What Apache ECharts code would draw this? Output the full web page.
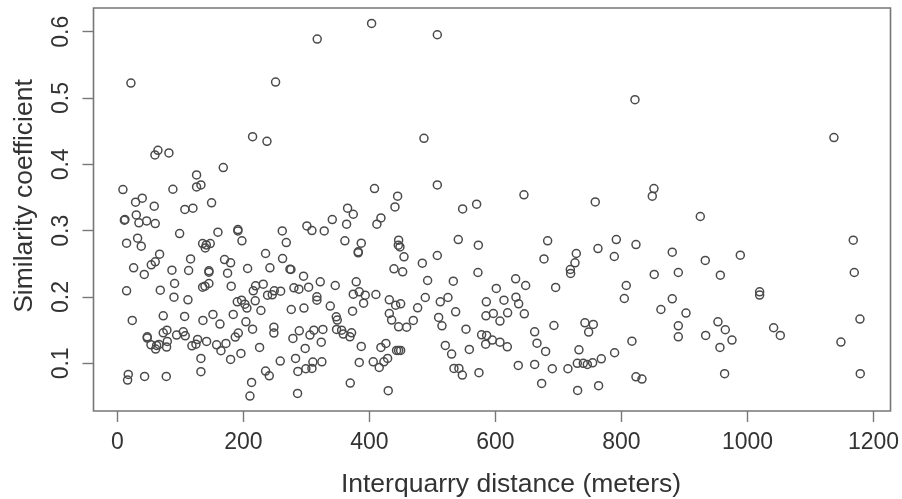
<!DOCTYPE html>
<html><head><meta charset="utf-8">
<style>html,body{margin:0;padding:0;background:#fff}#c{width:902px;height:499px;filter:blur(0.35px)}</style>
<script src="https://cdn.jsdelivr.net/npm/echarts@6/dist/echarts.min.js"></script>
</head><body><div id="c"></div>
<script>
const xTicks=[0,200,400,600,800,1000,1200];
const yTicks=[0.1,0.2,0.3,0.4,0.5,0.6];
const xTitle='Interquarry distance (meters)';
const yTitle='Similarity coefficient';
// [distance, similarity]
const upperPoints=[[21.4,.5226],[317.1,.5889],[403.4,.6125],[251,.5241],[214.5,.4418],[237.3,.4347],[64.3,.4212],[59.5,.4142],[81.7,.4172],[168,.3951],[125.6,.384],[132.5,.369],[125.6,.366],[8.7,.362],[88,.3625],[39.4,.349],[28.8,.343],[58.4,.337],[107,.332],[119.8,.334],[149.4,.342],[408,.3635],[365.3,.334],[374.3,.3248],[507.7,.5954],[821.4,.4975],[486.5,.4393],[507.7,.369],[444.7,.352],[440.5,.3359],[547.9,.3328],[570.1,.3399],[645.2,.354],[758.4,.3434],[851.5,.3635],[848.9,.352],[1137.2,.4404],[925.1,.3214]];
const leftPoints=[[11.9,.3168],[11,.3158],[29.9,.3238],[34.1,.3118],[46.3,.3148],[60,.3108],[98.7,.2957],[159.5,.2977],[191.2,.3017],[191.2,.2997],[197.6,.2847],[261.6,.2997],[268,.2821],[300.7,.3072],[308.7,.3002],[328.2,.2997],[341,.3168],[363.7,.3098],[361,.2847],[387,.2811],[382.2,.2681],[382.2,.2666],[411.8,.3098],[418.2,.3193],[32,.2887],[14.5,.2811],[37.8,.2766],[66.9,.2646],[60,.253],[53.7,.2485],[25.7,.244],[42.6,.234],[86.5,.2405],[116.1,.2575],[113,.24],[135.2,.2806],[147.3,.2806],[139.4,.2741],[141,.2786],[170,.2565],[179.6,.2515],[174.8,.236],[145.2,.2395],[145.2,.2375],[145.2,.2204],[138.9,.2164],[135.2,.2149],[90.7,.2204],[68,.2104],[14.5,.2094],[89.7,.1998],[111.9,.1958],[180.6,.2164],[206.6,.243],[235.1,.2656],[262.1,.258],[242,.244],[273.8,.242],[275.4,.2415],[295.4,.2314],[321.9,.2229],[345.7,.2174],[379,.2229],[303.4,.2149],[280.1,.2139],[288,.2119],[219.3,.2169],[231.4,.2194],[215.6,.2094],[259,.2089],[248.9,.2094],[245.7,.2033],[238.3,.2028],[218.7,.1943],[190.2,.1928],[197,.1953],[202.3,.1893],[205.5,.1833],[227.7,.1797],[183.8,.1737],[151.6,.1737],[135.7,.1647],[106.6,.1707],[72.7,.1717],[23.5,.1647],[162.7,.1592],[203.9,.1627],[214.5,.1516],[248.3,.1546],[248.3,.1456],[275.9,.1812],[296,.1833],[316.6,.2003],[316.6,.1953],[337.8,.1863],[373.2,.1787],[374.3,.2043],[383.8,.2078],[393.3,.2028],[410.2,.2038],[390.7,.1908],[347.3,.1702],[348.9,.1652],[347.8,.1511],[355.8,.1501],[358.4,.1441],[371.6,.1461],[369,.1401],[387,.1255],[418.2,.124],[426.1,.13],[288.6,.1491],[278.5,.1376],[305.5,.1426],[311.8,.1501],[326.1,.1511],[323.5,.132],[298,.1225],[225.6,.124],[282.7,.1075],[258.4,.1034],[310.2,.1019],[324.5,.1024],[308.7,.0924],[299.1,.0919],[286.4,.0879],[383.8,.1014],[406,.1024],[415.5,.0939],[422.9,.1024],[428.8,.1075],[369.5,.0703],[429.8,.0588],[285.9,.0547],[210.3,.0507],[212.9,.0713],[235.1,.0884],[241,.0813],[132.5,.0874],[132.5,.1075],[179.6,.1059],[196,.115],[164.3,.119],[157.4,.128],[172.2,.13],[141.5,.133],[127.2,.1361],[124.6,.129],[118.2,.1265],[187,.1396],[191.8,.1456],[93.9,.1426],[104.5,.1476],[107.6,.1416],[78.5,.1501],[72.7,.1461],[79.1,.133],[78,.1245],[47.3,.1401],[47.3,.1381],[53.2,.128],[60.6,.1215],[65.9,.1285],[62.2,.127],[17.2,.0834],[16.1,.0748],[43.1,.0803],[77.5,.0803]];
const middlePoints=[[446.3,.2857],[448.4,.2756],[445.8,.2781],[454.8,.2606],[541,.2867],[572.8,.2781],[507.7,.2626],[483.9,.251],[438.9,.2425],[452.7,.238],[572.2,.237],[492.3,.2249],[533.1,.2239],[632,.2274],[647.9,.2174],[601.3,.2129],[695.5,.2144],[682.8,.2847],[677,.2575],[728.3,.2656],[726.2,.2515],[718.8,.2415],[719.3,.2355],[762.7,.2731],[791.8,.2867],[788.6,.2611],[823,.2791],[880.6,.2676],[852,.234],[890.2,.237],[807.6,.2174],[804.5,.1978],[880.6,.1973],[862.6,.1812],[890.2,.1566],[890.2,.1401],[816.6,.1335],[789.1,.116],[768,.1069],[754.2,.1009],[745.8,.0984],[739.4,.1],[729.9,.1],[732.5,.1205],[715,.0919],[690.2,.0919],[662.2,.0984],[636.2,.0969],[679.6,.118],[665.9,.1305],[662.2,.1476],[692.8,.1571],[742,.1612],[755.3,.1587],[747.9,.1471],[673.3,.0698],[730.4,.0592],[763.7,.0663],[823,.0798],[832.5,.0763],[573.8,.0859],[547.4,.0823],[542,.0924],[534.1,.0924],[558.5,.121],[530.4,.114],[520.4,.127],[553.2,.1516],[515.1,.1566],[509.8,.1692],[536.8,.1777],[512.4,.1928],[524.6,.1993],[488.6,.1993],[476.5,.1837],[469.6,.1647],[459,.1546],[446.3,.1551],[435.2,.1652],[431.5,.1752],[431.5,.1958],[441.6,.1878],[449.5,.1898],[443,.1195],[449.5,.1195],[446.3,.1195],[585.5,.1928],[613.5,.1953],[632.5,.1998],[636.8,.1898],[645.8,.1747],[619.3,.1762],[596.6,.1752],[584.9,.1717],[607.1,.1637],[578,.1431],[586,.1421],[595,.1351],[607.1,.132],[618.8,.125],[584.4,.129]];
const rightPoints=[[1167.9,.2857],[1169.5,.237],[933,.2551],[988.6,.2631],[956.9,.233],[1019.3,.2079],[1019.3,.2029],[902.4,.1758],[933.6,.1422],[953.1,.1627],[964.8,.1507],[975.4,.1351],[956.3,.1241],[963.7,.0844],[1041.5,.1537],[1052.1,.1422],[1148.3,.1321],[1178.5,.1668],[1179,.0844]];
const allPoints=[...upperPoints,...leftPoints,...middlePoints,...rightPoints];
const textColor='#333';
const boxColor='#777';
const font='"Liberation Sans", Arial, sans-serif';
const chart=echarts.init(document.getElementById('c'),null,{renderer:'canvas'});
chart.setOption({
  animation:false,
  backgroundColor:'#fff',
  grid:{left:93.5,top:8,width:797,height:403,outerBoundsMode:'none',containLabel:false,show:true,borderColor:boxColor,borderWidth:1.6,backgroundColor:'#fff'},
  xAxis:{type:'value',min:-38,max:1227,splitLine:{show:false},axisLine:{show:false,onZero:false},
    axisTick:{show:true,length:11,customValues:xTicks,lineStyle:{color:boxColor,width:1.4}},
    axisLabel:{customValues:xTicks,color:textColor,fontFamily:font,fontSize:23,margin:20,formatter:v=>String(v)},
    name:xTitle,nameLocation:'middle',nameGap:60,nameTextStyle:{color:textColor,fontFamily:font,fontSize:26.5,padding:[0,0,0,38]}},
  yAxis:{type:'value',min:0.0282,max:0.6357,splitLine:{show:false},axisLine:{show:false,onZero:false},
    axisTick:{show:true,length:11,customValues:yTicks,lineStyle:{color:boxColor,width:1.4}},
    axisLabel:{customValues:yTicks,rotate:90,color:textColor,fontFamily:font,fontSize:23,margin:20,formatter:v=>v.toFixed(1)},
    name:yTitle,nameLocation:'middle',nameGap:55,nameRotate:90,nameTextStyle:{color:textColor,fontFamily:font,fontSize:26.5,padding:[0,0,0,27]}},
  series:[{type:'scatter',data:allPoints,symbol:'circle',symbolSize:8,clip:false,
    itemStyle:{color:'rgba(255,255,255,0)',borderColor:'#4a4a4a',borderWidth:1.5,opacity:1}}]
});
</script></body></html>
